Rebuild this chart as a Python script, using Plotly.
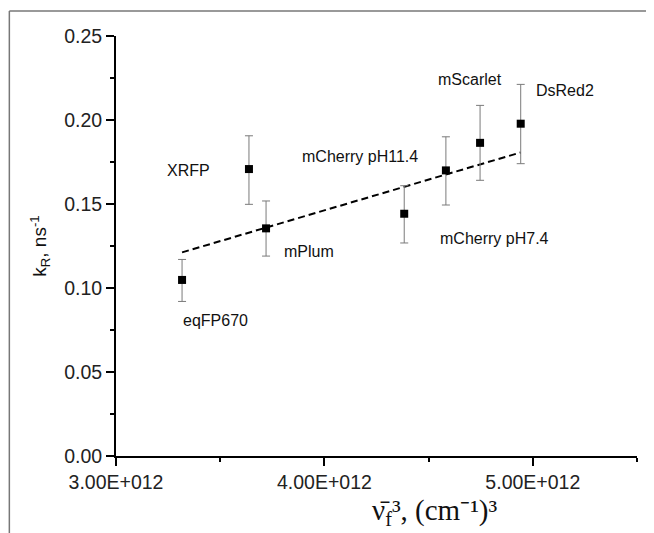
import plotly.graph_objects as go

# ---- data ----
proteins = ["eqFP670", "XRFP", "mPlum", "mCherry pH7.4", "mCherry pH11.4", "mScarlet", "DsRed2"]
nu3 = [3.317e12, 3.638e12, 3.720e12, 4.383e12, 4.583e12, 4.747e12, 4.942e12]
k_r = [0.1048, 0.1708, 0.1355, 0.1442, 0.1700, 0.1864, 0.1978]
k_upper = [0.1170, 0.1906, 0.1518, 0.1609, 0.1900, 0.2087, 0.2212]
k_lower = [0.0920, 0.1498, 0.1190, 0.1268, 0.1494, 0.1641, 0.1740]

fit_x = [3.317e12, 4.942e12]
fit_y = [0.1212, 0.1807]

x_tick_vals = [3e12, 4e12, 5e12]
x_tick_text = ["3.00E+012", "4.00E+012", "5.00E+012"]

# label offsets (pixels) relative to each point: (dx, dy_down)
label_offsets = [(33, 41), (-60, 1), (43, 23), (90, 25), (-86, -14), (-10, -63), (44, -33)]

err_plus = [u - v for u, v in zip(k_upper, k_r)]
err_minus = [v - l for v, l in zip(k_r, k_lower)]

fig = go.Figure()

fig.add_trace(go.Scatter(
    x=fit_x, y=fit_y, mode="lines",
    line=dict(color="black", width=2, dash="7px,4px"),
    showlegend=False, hoverinfo="skip",
))

fig.add_trace(go.Scatter(
    x=nu3, y=k_r, mode="markers",
    marker=dict(symbol="square", size=8, color="black"),
    error_y=dict(type="data", symmetric=False, array=err_plus, arrayminus=err_minus,
                 color="#7a7a7a", thickness=1, width=4),
    showlegend=False,
))

for name, xv, yv, (dx, dy) in zip(proteins, nu3, k_r, label_offsets):
    fig.add_annotation(x=xv, y=yv, xref="x", yref="y", text=name, showarrow=False,
                       xshift=dx, yshift=-dy,
                       font=dict(family="Liberation Sans, Arial", size=16, color="#111"))

tick_font = dict(family="Liberation Sans, Arial", size=19.5, color="#222")

fig.update_xaxes(
    range=[3e12, 5.5e12], tickvals=x_tick_vals, ticktext=x_tick_text,
    showline=True, linecolor="black", linewidth=2,
    ticks="outside", ticklen=8, tickwidth=2, tickcolor="black",
    minor=dict(ticks="outside", ticklen=4, tickwidth=2, tickcolor="black", dtick=0.5e12, tick0=3e12),
    showgrid=False, zeroline=False, tickfont=tick_font,
)
fig.update_yaxes(
    range=[0, 0.25], dtick=0.05, tick0=0, tickformat=".2f",
    showline=True, linecolor="black", linewidth=2,
    ticks="outside", ticklen=8, tickwidth=2, tickcolor="black",
    minor=dict(ticks="outside", ticklen=4, tickwidth=2, tickcolor="black", dtick=0.025),
    showgrid=False, zeroline=False, tickfont=tick_font,
    title=dict(text="k<sub>R</sub>, ns<sup>-1</sup>",
               font=dict(family="Liberation Sans, Arial", size=19, color="#111"),
               standoff=12),
)

# x-axis title (offset to the right as in the original)
fig.add_annotation(xref="paper", yref="paper", x=0.612, y=0, yshift=-56,
                   xanchor="center", yanchor="middle", showarrow=False,
                   text="ν̄<sub>f</sub>³, (cm⁻¹)³",
                   font=dict(family="Liberation Serif, Times New Roman", size=29, color="#111"))

# outer gray frame (top and left edges)
fig.add_shape(type="line", xref="paper", yref="paper", x0=-0.2047, x1=-0.2047, y0=-0.25, y1=1.0596,
              line=dict(color="#777", width=1.5), layer="above")
fig.add_shape(type="line", xref="paper", yref="paper", x0=-0.2047, x1=1.1, y0=1.0596, y1=1.0596,
              line=dict(color="#777", width=1.5), layer="above")

fig.update_layout(
    width=654, height=533,
    margin=dict(l=108, r=25, t=28, b=85),
    plot_bgcolor="white", paper_bgcolor="white",
)

fig.write_html("out.html")
